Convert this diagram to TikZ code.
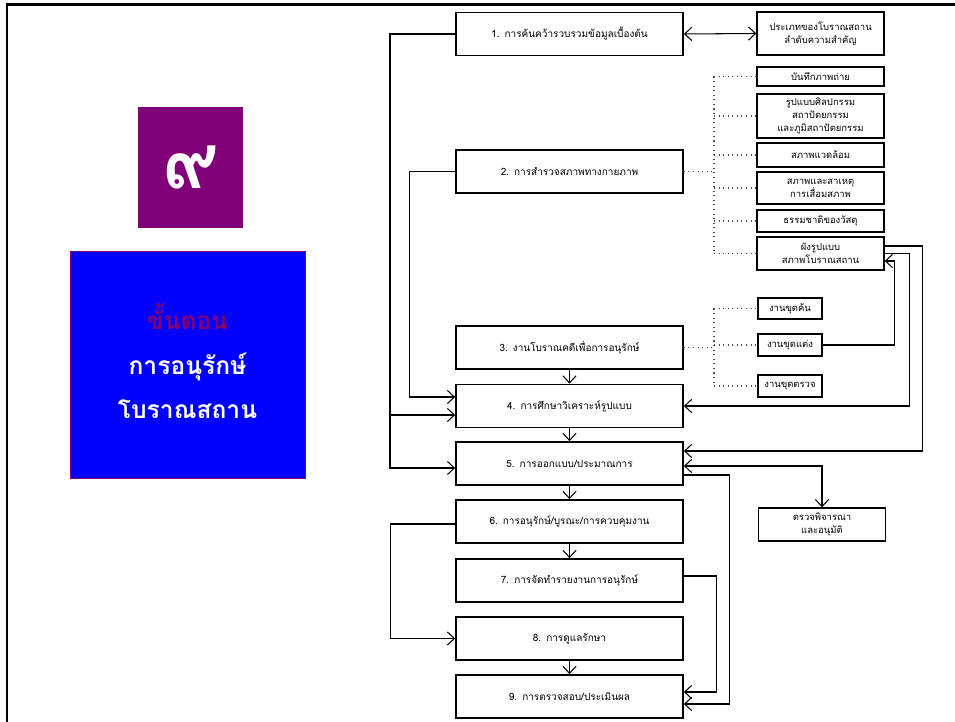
\documentclass[tikz,border=0pt]{standalone}
\usepackage{fontspec}
\newfontfamily\thaifont[Script=Thai]{Loma}
\usetikzlibrary{positioning, arrows.meta, calc}
\definecolor{numpurple}{RGB}{128,0,120}
\definecolor{titleblue}{RGB}{0,0,255}

\begin{document}
\begin{tikzpicture}[x=0.02cm, y=-0.02cm]
	\useasboundingbox (0,0) rectangle (955,722);

    % Define styles
    \tikzset{
        main box/.style={draw, line width=1pt, minimum width=4.54cm, minimum height=0.86cm, inner sep=0pt,
            font=\thaifont\fontsize{5.7}{7}\selectfont},
        side box/.style={draw, line width=0.8pt, minimum width=2.54cm, inner sep=0pt, align=center,
            font=\thaifont\fontsize{5.4}{7.4}\selectfont},
        dig box/.style={side box, minimum width=1.28cm},
        flow/.style={-{Straight Barb[length=4pt,width=7.5pt]}, line width=0.6pt},
        both flow/.style={{Straight Barb[length=4pt,width=7.5pt]}-{Straight Barb[length=4pt,width=7.5pt]}, line width=0.6pt},
        dots/.style={dotted, line width=0.6pt, black!70}
    }

    % Page frame
	\draw[line width=1.7pt] (7,722) -- (7,5) -- (955,5);

    % Define nodes
	\node[fill=numpurple, minimum width=2.1cm, minimum height=2.42cm, inner sep=0pt, text=white,
		font=\thaifont\bfseries\fontsize{44}{48}\selectfont] (Number) at (190.5,167.5) {๙};
	\node[fill=titleblue, draw=numpurple, line width=0.5pt, minimum width=4.7cm, minimum height=4.54cm,
		inner sep=0pt, align=center, font=\thaifont\bfseries\fontsize{14}{25.5}\selectfont] (Title) at (187.5,364.5)
		{\textcolor{numpurple}{ขั้นตอน}\\ \textcolor{white}{การอนุรักษ์}\\ \textcolor{white}{โบราณสถาน}\rule[-4pt]{0pt}{0pt}};

	\node[main box] (Research) at (569.5,34) {1.\enspace การค้นคว้ารวบรวมข้อมูลเบื้องต้น};
	\node[main box] (Survey) at (569.5,171.5) {2.\enspace การสำรวจสภาพทางกายภาพ};
	\node[main box] (Archaeology) at (569.5,347.5) {3.\enspace งานโบราณคดีเพื่อการอนุรักษ์};
	\node[main box] (Analysis) at (569.5,406) {4.\enspace การศึกษาวิเคราะห์รูปแบบ};
	\node[main box] (Design) at (569.5,463.5) {5.\enspace การออกแบบ/ประมาณการ};
	\node[main box] (Conserve) at (569.5,521.5) {6.\enspace การอนุรักษ์/บูรณะ/การควบคุมงาน};
	\node[main box] (Report) at (569.5,580.5) {7.\enspace การจัดทำรายงานการอนุรักษ์};
	\node[main box] (Maintain) at (569.5,638.5) {8.\enspace การดูแลรักษา};
	\node[main box] (Evaluate) at (569.5,696.5) {9.\enspace การตรวจสอบ/ประเมินผล};

	\node[side box, minimum height=0.86cm] (SiteType) at (820.5,33.5) {ประเภทของโบราณสถาน\\ลำดับความสำคัญ};
	\node[side box, minimum height=0.38cm] (Photo) at (820.5,76.5) {บันทึกภาพถ่าย};
	\node[side box, minimum height=0.88cm] (ArtStyle) at (820.5,116) {รูปแบบศิลปกรรม\\สถาปัตยกรรม\\และภูมิสถาปัตยกรรม};
	\node[side box, minimum height=0.48cm] (Setting) at (820.5,155) {สภาพแวดล้อม};
	\node[side box, minimum height=0.64cm] (Decay) at (820.5,188) {สภาพและสาเหตุ\\การเสื่อมสภาพ};
	\node[side box, minimum height=0.44cm] (Material) at (820.5,221) {ธรรมชาติของวัสดุ};
	\node[side box, minimum height=0.66cm] (SitePlan) at (820.5,253.5) {ผังรูปแบบ\\สภาพโบราณสถาน};
	\node[dig box, minimum height=0.42cm] (Excavate) at (790,308.5) {งานขุดค้น};
	\node[dig box, minimum height=0.44cm] (Clearing) at (790,345) {งานขุดแต่ง};
	\node[dig box, minimum height=0.44cm] (TestPit) at (790,386) {งานขุดตรวจ};
	\node[side box, minimum height=0.66cm] (Approval) at (822,524.5) {ตรวจพิจารณา\\และอนุมัติ};

	\coordinate (SurveyHub) at (714,171.5);
	\coordinate (DigHub) at (714,347.5);
	\coordinate (LeftRail) at (390,415);

    % Dotted links to the survey topics
	\draw[dots] (Survey.east) -- (SurveyHub);
	\draw[dots] (SurveyHub |- Photo.west) -- (SurveyHub |- SitePlan.west);
	\draw[dots] (SurveyHub |- Photo.west) -- (Photo.west);
	\draw[dots] (SurveyHub |- ArtStyle.west) -- (ArtStyle.west);
	\draw[dots] (SurveyHub |- Setting.west) -- (Setting.west);
	\draw[dots] (SurveyHub |- Decay.west) -- (Decay.west);
	\draw[dots] (SurveyHub |- Material.west) -- (Material.west);
	\draw[dots] (SurveyHub |- SitePlan.west) -- (SitePlan.west);

    % Dotted links to the digging works
	\draw[dots] (Archaeology.east) -- (DigHub);
	\draw[dots] (DigHub |- Excavate.west) -- (DigHub |- TestPit.west);
	\draw[dots] (DigHub |- Excavate.west) -- (Excavate.west);
	\draw[dots] (DigHub |- Clearing.west) -- (Clearing.west);
	\draw[dots] (DigHub |- TestPit.west) -- (TestPit.west);

    % Draw the flow between the steps
	\draw[both flow] (Research.east) -- (SiteType.west);
	\draw[flow] (Archaeology) -- (Analysis);
	\draw[flow] (Analysis) -- (Design);
	\draw[flow] (Design) -- (Conserve);
	\draw[flow] (Conserve) -- (Report);
	\draw[flow] (Maintain) -- (Evaluate);

	\draw[flow] (Research.west) -| (LeftRail) |- ($(Design.west)+(0,4.5)$);
	\draw[flow] (LeftRail) -- (LeftRail -| Analysis.west);
	\draw[flow] (Survey.west) -- ++(-46,0) |- ($(Analysis.west)+(0,-9)$);
	\draw[flow] ($(Conserve.west)+(0,2.5)$) -- ++(-65,0) |- (Maintain.west);

	\draw[flow] ($(Report.east)+(0,-4.5)$) -- ++(33,0) |- ($(Evaluate.east)+(0,-4.5)$);
	\draw[flow] ($(Design.east)+(0,11.5)$) -- ++(46,0) |- ($(Evaluate.east)+(0,7.5)$);
	\draw[both flow] ($(Design.east)+(0,2.5)$) -| (Approval.north);

	\draw[flow] ($(SitePlan.east)+(0,-7.5)$) -- ++(38,0) |- ($(Design.east)+(0,-12.5)$);
	\draw[flow] (SitePlan.east) -- ++(25,0) |- (Analysis.east);
	\draw[flow] (Clearing.east) -- ++(72,0) |- ($(SitePlan.east)+(0,7.5)$);
\end{tikzpicture}
\end{document}
